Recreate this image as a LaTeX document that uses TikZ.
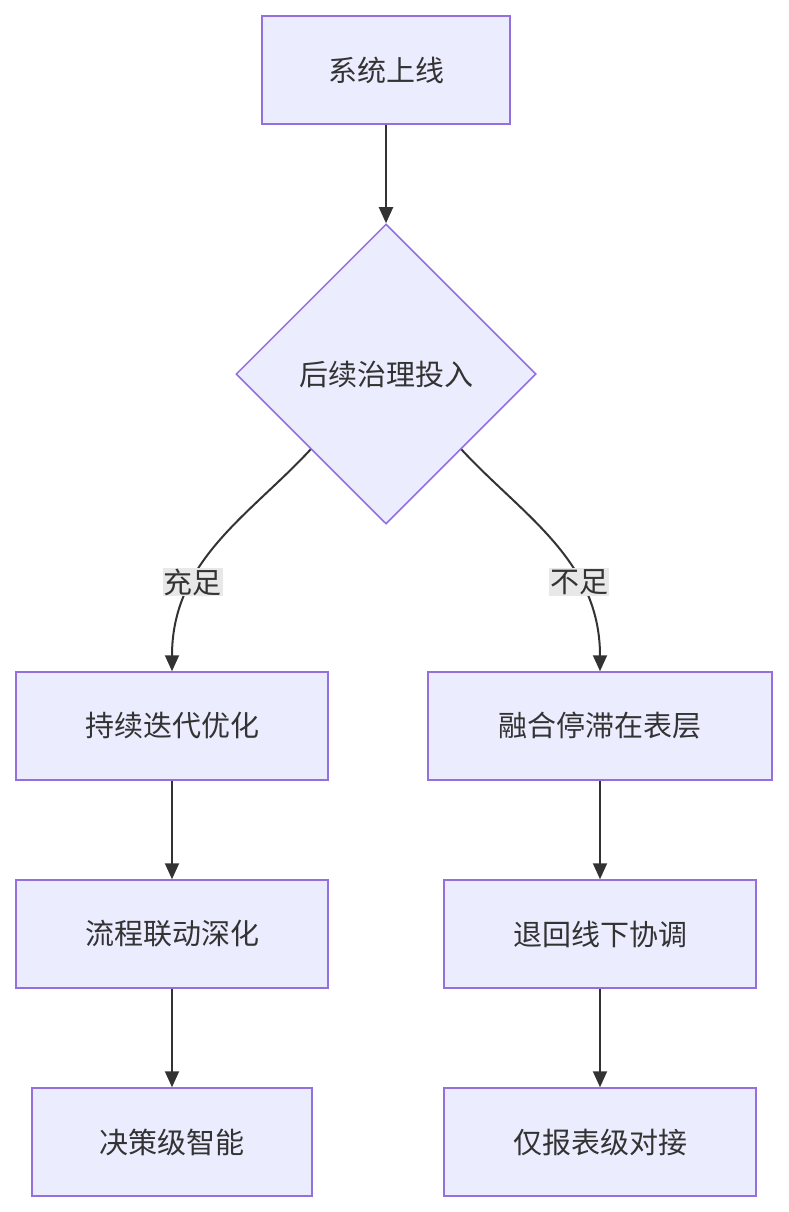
\documentclass[tikz,border=0pt]{standalone}
\usepackage{fontspec}
\setmainfont{Noto Sans CJK SC}
\usetikzlibrary{arrows.meta, positioning, shapes.geometric}
\definecolor{boxfill}{HTML}{ECECFF}
\definecolor{boxline}{HTML}{9370DB}
\definecolor{ink}{HTML}{333333}
\definecolor{lblbg}{HTML}{E8E8E8}
\begin{document}
\begin{tikzpicture}[x=1pt, y=-1pt,
    box/.style={draw=boxline, fill=boxfill, line width=1.5pt, rectangle, minimum height=108pt, text=ink, font=\fontsize{29}{34}\selectfont},
    dec/.style={draw=boxline, fill=boxfill, line width=1.5pt, diamond, minimum width=300pt, minimum height=300pt, inner sep=0pt, text=ink, font=\fontsize{29}{34}\selectfont},
    lbl/.style={fill=lblbg, text=ink, inner sep=1pt, font=\fontsize{29}{34}\selectfont},
    flow/.style={draw=ink, line width=2pt, -{Triangle[length=16pt, width=14pt]}}]
    \useasboundingbox (0,0) rectangle (788,1212);
    \node (online) [box, minimum width=248pt] at (386,70) {系统上线};
    \node (invest) [dec] at (386,374) {后续治理投入};
    \node (iterate) [box, minimum width=312pt] at (172,726) {持续迭代优化};
    \node (surface) [box, minimum width=344pt] at (600,726) {融合停滞在表层};
    \node (deepen) [box, minimum width=312pt] at (172,934) {流程联动深化};
    \node (offline) [box, minimum width=312pt] at (600,934) {退回线下协调};
    \node (smart) [box, minimum width=280pt] at (172,1142) {决策级智能};
    \node (report) [box, minimum width=312pt] at (600,1142) {仅报表级对接};

    \draw[flow] (online) -- (invest);
    \draw[flow] (invest.south west) .. controls (250,515) and (172,560) .. (iterate.north)
        node[lbl, pos=0.68] {充足};
    \draw[flow] (invest.south east) .. controls (522,515) and (600,560) .. (surface.north)
        node[lbl, pos=0.68] {不足};
    \draw[flow] (iterate) -- (deepen);
    \draw[flow] (deepen) -- (smart);
    \draw[flow] (surface) -- (offline);
    \draw[flow] (offline) -- (report);
\end{tikzpicture}
\end{document}
